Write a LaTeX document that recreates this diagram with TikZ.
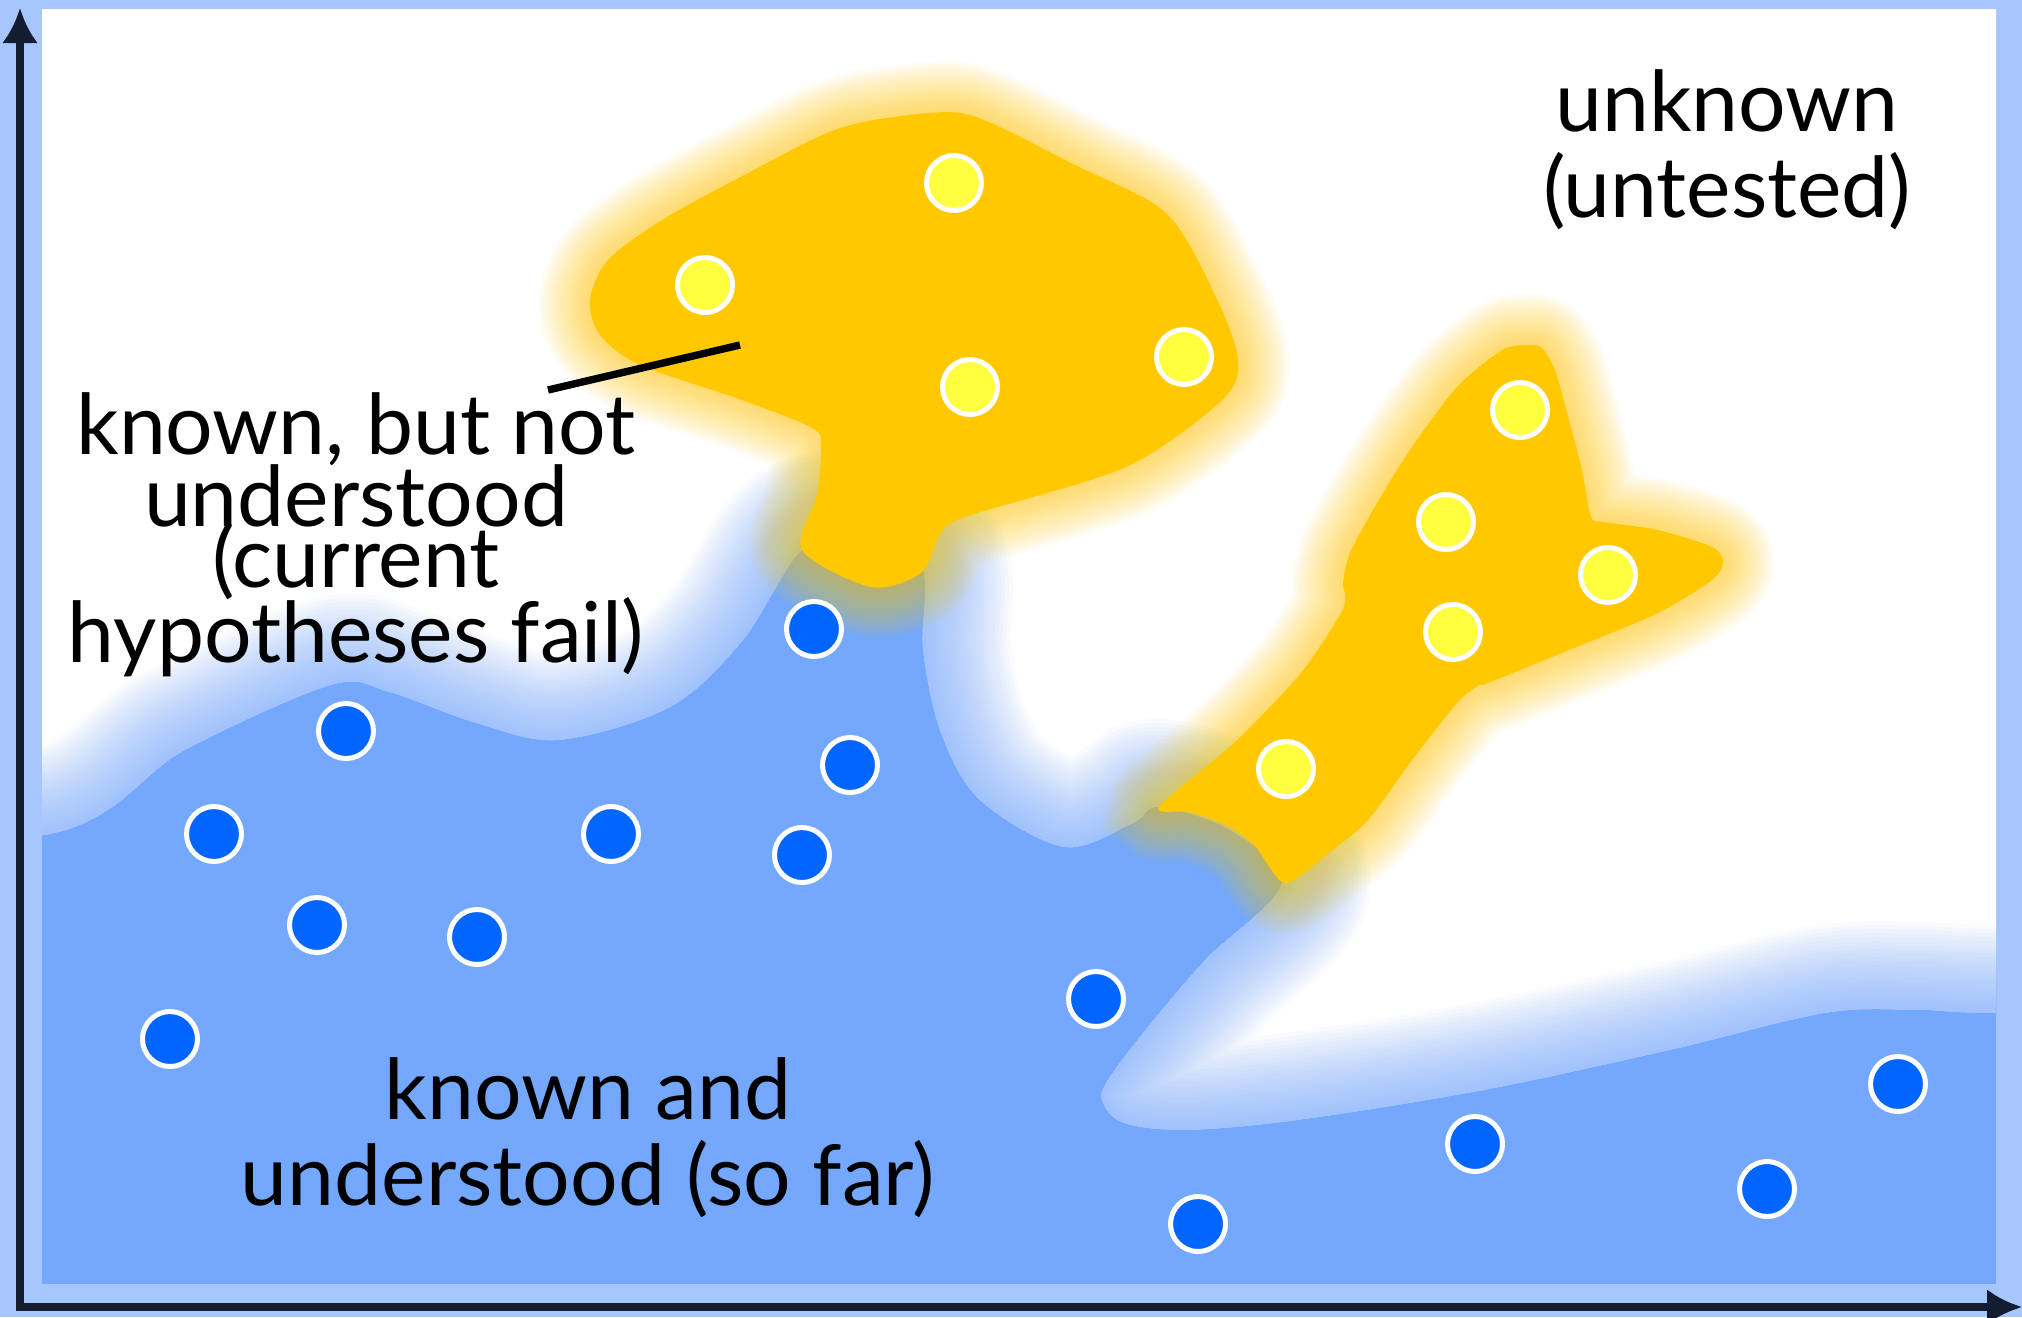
\documentclass[tikz,border=0pt]{standalone}
\usepackage{fontspec}
\setmainfont{Lato}
\usetikzlibrary{arrows.meta}

\definecolor{frameblue}{HTML}{A8C6FE}
\definecolor{knownblue}{HTML}{74A8FC}
\definecolor{dotblue}{HTML}{0066FF}
\definecolor{gold}{HTML}{FFC800}
\definecolor{dotyellow}{HTML}{FFFF40}
\definecolor{axisink}{HTML}{141C30}

% the untested region: everything above the known/understood boundary
% (its outer sides lie far outside the frame so that only the real
% boundary receives the soft fringe)
\newcommand\unknownregion{plot[smooth,tension=0.55] coordinates {
  (-300,836) (45,835) (185,750) (331,685) (389,692) (476,723) (559,740)
  (670,707) (743,640) (802,550) (860,540) (921,565) (923,650) (941,733)
  (980,800) (1064,847) (1133,823) (1159,807) (1230,830) (1282,883)
  (1205,960) (1143,1033) (1106,1083) (1103,1103) (1124,1123) (1186,1130)
  (1298,1120) (1484,1090) (1670,1050) (1825,1013) (1918,1010) (1995,1013)
  (2300,1013)} -- (2300,-300) -- (-300,-300) -- cycle}

% the two anomalous (known but not understood) patches
\newcommand\bigblob{plot[smooth cycle,tension=0.5] coordinates {
  (590,300) (608,260) (662,220) (750,172) (840,128) (929,113) (979,118)
  (1075,165) (1166,213) (1215,295) (1238,360) (1222,400) (1126,467)
  (965,517) (940,535) (921,573) (871,587) (802,550) (817,495) (821,445)
  (812,428) (742,400) (640,365) (600,335)}}
\newcommand\fishblob{plot[smooth cycle,tension=0.45] coordinates {
  (1529,345) (1542,348) (1555,370) (1569,420) (1582,470) (1591,517)
  (1604,522) (1658,530) (1712,547) (1723,562) (1712,580) (1658,613)
  (1569,650) (1488,683) (1479,685) (1457,703) (1412,760) (1368,820)
  (1330,852) (1285,883) (1255,846) (1228,826) (1190,812) (1159,807)
  (1234,743) (1301,673) (1341,613) (1345,593) (1343,583) (1350,553)
  (1377,503) (1412,447) (1457,387) (1502,350)}}

\begin{document}
\begin{tikzpicture}[x=0.5pt,y=-0.5pt,
  bdot/.style={circle,fill=dotblue,draw=white,line width=2.5pt,
    minimum size=27.5pt,inner sep=0pt},
  ydot/.style={bdot,fill=dotyellow},
  caption/.style={font=\fontsize{42}{43}\selectfont,align=center,inner sep=0pt},
  axis/.style={draw=axisink,line width=4pt,line join=miter,
    arrows={Latex[length=17.5pt,width=18pt]-Latex[length=17.5pt,width=18pt]}}]
\useasboundingbox (0,0) rectangle (2022,1317);
\fill[frameblue] (0,0) rectangle (2022,1317);

\begin{scope}
  \clip (42,9) rectangle (1996,1284);
  \fill[knownblue] (42,9) rectangle (1996,1284);
  \fill[white] \unknownregion;
  % soft blue fringe inside the untested region
  \begin{scope}
    \clip \unknownregion;
    \foreach \w in {4,8,...,88}
      \draw[knownblue,opacity=0.042,line width=\w pt] \unknownregion;
  \end{scope}
  % golden halo round the anomalies
  \foreach \w in {3,6,...,51}{
    \draw[gold,opacity=0.042,line width=\w pt] \bigblob;
    \draw[gold,opacity=0.042,line width=\w pt] \fishblob;
  }
  \fill[gold] \bigblob;
  \fill[gold] \fishblob;
\end{scope}

% observations that are not explained
\node[ydot] (y1) at (954,183) {};
\node[ydot] (y2) at (705,285) {};
\node[ydot] (y3) at (970,387) {};
\node[ydot] (y4) at (1184,357) {};
\node[ydot] (y5) at (1520,410) {};
\node[ydot] (y6) at (1446,522) {};
\node[ydot] (y7) at (1608,575) {};
\node[ydot] (y8) at (1453,632) {};
\node[ydot] (y9) at (1286,769) {};

% observations that are explained
\node[bdot] (b1) at (814,629) {};
\node[bdot] (b2) at (346,731) {};
\node[bdot] (b3) at (214,834) {};
\node[bdot] (b4) at (850,765) {};
\node[bdot] (b5) at (611,834) {};
\node[bdot] (b6) at (802,855) {};
\node[bdot] (b7) at (317,925) {};
\node[bdot] (b8) at (477,937) {};
\node[bdot] (b9) at (170,1039) {};
\node[bdot] (b10) at (1096,999) {};
\node[bdot] (b11) at (1475,1144) {};
\node[bdot] (b12) at (1898,1084) {};
\node[bdot] (b13) at (1767,1189) {};
\node[bdot] (b14) at (1198,1224) {};

% region captions (base anchor = baseline of the last line)
\node[caption,anchor=base] (failcap) at (356,662)
  {known, but not\\[-7pt]understood\\[-12.5pt](current\\[-5.5pt]hypotheses fail)};
\node[caption,anchor=base] (unknowncap) at (1727,217)
  {unknown\\(untested)};
\node[caption,anchor=base] (knowncap) at (588,1205)
  {known and\\understood (so far)};

% pointer from the caption into the golden patch
\coordinate (ptail) at (548,390);
\coordinate (phead) at (740,345);
\draw[line width=3.7pt] (ptail) -- (phead);

% axes
\coordinate (ytip) at (20,8);
\coordinate (origin) at (20,1307);
\coordinate (xtip) at (2022,1307);
\draw[axis] (ytip) -- (origin) -- (xtip);
\end{tikzpicture}
\end{document}
